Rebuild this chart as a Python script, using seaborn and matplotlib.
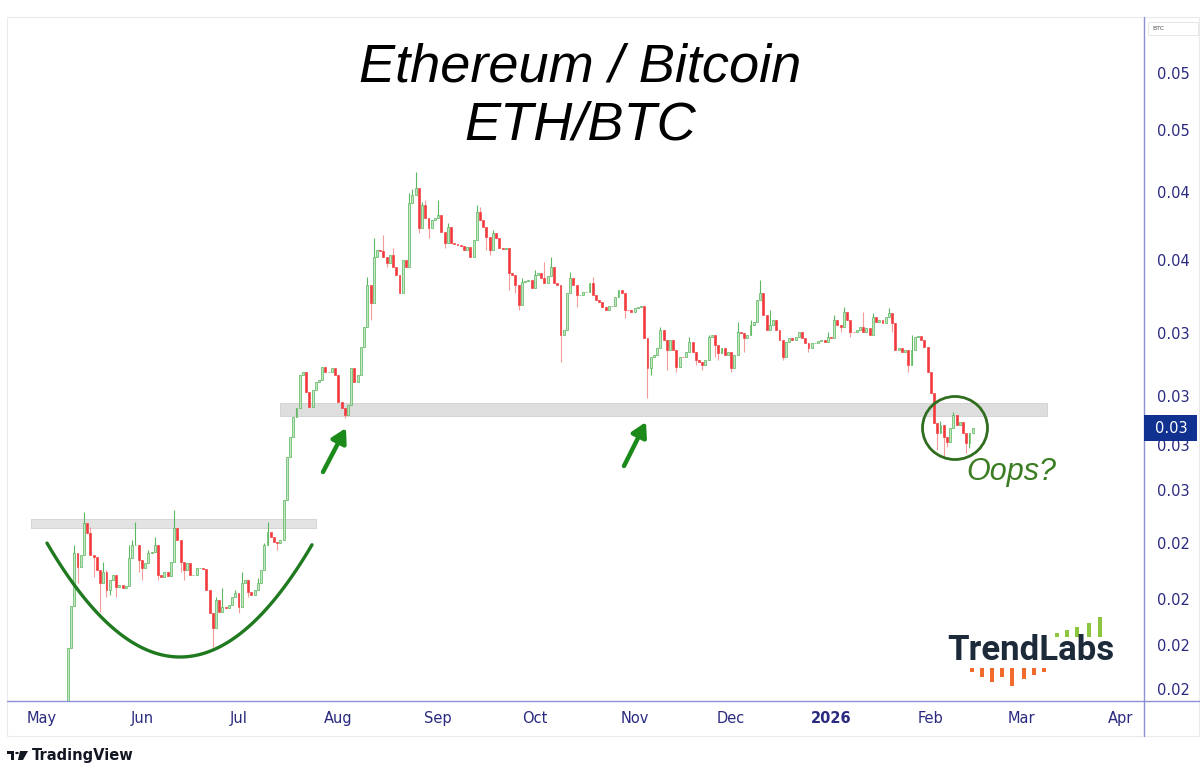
import numpy as np
import pandas as pd
import matplotlib
matplotlib.use("Agg")
import matplotlib.pyplot as plt
import matplotlib.dates as mdates
from matplotlib.patches import Rectangle, Ellipse, Polygon, Circle
from matplotlib.lines import Line2D
import seaborn as sns

# daily ETH/BTC closes, from 2025-05-09 to 2026-02-14
first_open = 0.0182
closes = [
    0.02000, 0.02140, 0.02330, 0.02278, 0.02323, 0.02445, 0.02406, 0.02323, 0.02315, 0.02267,
    0.02220, 0.02260, 0.02195, 0.02231, 0.02249, 0.02206, 0.02213, 0.02202, 0.02209, 0.02311,
    0.02360, 0.02360, 0.02304, 0.02274, 0.02293, 0.02330, 0.02334, 0.02360, 0.02249, 0.02242,
    0.02260, 0.02245, 0.02297, 0.02426, 0.02379, 0.02297, 0.02267, 0.02293, 0.02249, 0.02249,
    0.02274, 0.02274, 0.02270, 0.02195, 0.02116, 0.02065, 0.02160, 0.02119, 0.02136, 0.02133,
    0.02143, 0.02170, 0.02185, 0.02136, 0.02220, 0.02231, 0.02188, 0.02178, 0.02195, 0.02220,
    0.02267, 0.02360, 0.02410, 0.02391, 0.02371, 0.02368, 0.02379, 0.02538, 0.02719, 0.02809,
    0.02900, 0.02943, 0.03103, 0.03118, 0.03019, 0.02947, 0.03029, 0.03068, 0.03078, 0.03143,
    0.03118, 0.03120, 0.03138, 0.03103, 0.02971, 0.02943, 0.02910, 0.02957, 0.03138, 0.03068,
    0.03103, 0.03247, 0.03353, 0.03587, 0.03485, 0.03752, 0.03795, 0.03790, 0.03752, 0.03716,
    0.03764, 0.03693, 0.03646, 0.03541, 0.03734, 0.03693, 0.04094, 0.04147, 0.04194, 0.03932,
    0.04081, 0.03996, 0.03932, 0.03983, 0.03996, 0.04016, 0.03907, 0.03838, 0.03938, 0.03838,
    0.03832, 0.03826, 0.03820, 0.03795, 0.03814, 0.03752, 0.03857, 0.04035, 0.03983, 0.03938,
    0.03876, 0.03795, 0.03900, 0.03869, 0.03807, 0.03801, 0.03807, 0.03657, 0.03646, 0.03587,
    0.03474, 0.03604, 0.03610, 0.03616, 0.03570, 0.03646, 0.03657, 0.03628, 0.03599, 0.03640,
    0.03693, 0.03599, 0.03587, 0.03310, 0.03337, 0.03541, 0.03628, 0.03587, 0.03530, 0.03532,
    0.03547, 0.03548, 0.03599, 0.03530, 0.03502, 0.03491, 0.03463, 0.03446, 0.03468, 0.03470,
    0.03519, 0.03558, 0.03541, 0.03446, 0.03444, 0.03435, 0.03457, 0.03463, 0.03468, 0.03294,
    0.03138, 0.03195, 0.03205, 0.03241, 0.03337, 0.03283, 0.03231, 0.03283, 0.03231, 0.03143,
    0.03195, 0.03193, 0.03221, 0.03273, 0.03221, 0.03179, 0.03169, 0.03153, 0.03179, 0.03299,
    0.03310, 0.03257, 0.03215, 0.03241, 0.03205, 0.03221, 0.03138, 0.03205, 0.03326, 0.03321,
    0.03294, 0.03310, 0.03364, 0.03380, 0.03502, 0.03541, 0.03419, 0.03337, 0.03364, 0.03391,
    0.03337, 0.03283, 0.03195, 0.03273, 0.03294, 0.03283, 0.03299, 0.03326, 0.03294, 0.03267,
    0.03241, 0.03267, 0.03268, 0.03278, 0.03283, 0.03273, 0.03299, 0.03294, 0.03391, 0.03364,
    0.03353, 0.03435, 0.03391, 0.03326, 0.03324, 0.03337, 0.03353, 0.03326, 0.03348, 0.03310,
    0.03407, 0.03380, 0.03391, 0.03375, 0.03407, 0.03430, 0.03375, 0.03231, 0.03241, 0.03221,
    0.03231, 0.03153, 0.03231, 0.03299, 0.03305, 0.03283, 0.03246, 0.03118, 0.03015, 0.02872,
    0.02827, 0.02863, 0.02809, 0.02786, 0.02849, 0.02910, 0.02863, 0.02877, 0.02827, 0.02782,
    0.02827, 0.02849,
]
# wicks that can be seen beyond the bodies
highs = {
    "2025-05-11": 0.02360, "2025-05-14": 0.02489, "2025-05-16": 0.02430,
    "2025-05-20": 0.02297, "2025-05-21": 0.02267, "2025-05-28": 0.02360,
    "2025-05-29": 0.02379, "2025-05-30": 0.02449, "2025-06-03": 0.02341,
    "2025-06-05": 0.02391, "2025-06-11": 0.02497, "2025-06-24": 0.02170,
    "2025-06-26": 0.02202, "2025-06-30": 0.02195, "2025-07-02": 0.02260,
    "2025-07-07": 0.02238, "2025-07-09": 0.02368, "2025-07-10": 0.02449,
    "2025-08-10": 0.03634, "2025-08-12": 0.03869, "2025-08-15": 0.03888,
    "2025-08-18": 0.03807, "2025-08-23": 0.04160, "2025-08-24": 0.04187,
    "2025-08-25": 0.04303, "2025-08-27": 0.04100, "2025-08-28": 0.04110,
    "2025-09-01": 0.04113, "2025-09-04": 0.03964, "2025-09-13": 0.04081,
    "2025-09-14": 0.04068, "2025-09-18": 0.03919, "2025-09-27": 0.03628,
    "2025-10-01": 0.03675, "2025-10-04": 0.03722, "2025-10-06": 0.03752,
    "2025-10-12": 0.03660, "2025-10-19": 0.03634, "2025-11-09": 0.03353,
    "2025-11-18": 0.03299, "2025-11-24": 0.03310, "2025-12-03": 0.03380,
    "2025-12-07": 0.03390, "2025-12-10": 0.03616, "2025-12-13": 0.03446,
    "2025-12-31": 0.03326, "2026-01-02": 0.03420, "2026-01-05": 0.03460,
    "2026-01-11": 0.03435, "2026-01-14": 0.03430, "2026-01-19": 0.03457,
    "2026-01-26": 0.03310, "2026-02-04": 0.02880, "2026-02-08": 0.02924,
}
lows = {
    "2025-05-12": 0.02220, "2025-05-17": 0.02242, "2025-05-19": 0.02119,
    "2025-05-21": 0.02170, "2025-05-22": 0.02178, "2025-05-24": 0.02170,
    "2025-05-31": 0.02260, "2025-06-01": 0.02231, "2025-06-06": 0.02231,
    "2025-06-13": 0.02260, "2025-06-14": 0.02231, "2025-06-23": 0.02003,
    "2025-07-01": 0.02115, "2025-07-04": 0.02170, "2025-07-13": 0.02341,
    "2025-08-03": 0.02895, "2025-08-11": 0.03391, "2025-08-16": 0.03693,
    "2025-08-26": 0.03900, "2025-08-29": 0.03869, "2025-09-03": 0.03807,
    "2025-09-16": 0.03795, "2025-09-17": 0.03764, "2025-09-23": 0.03558,
    "2025-09-25": 0.03540, "2025-09-26": 0.03446, "2025-10-09": 0.03169,
    "2025-10-14": 0.03463, "2025-10-29": 0.03402, "2025-11-05": 0.02990,
    "2025-11-06": 0.03103, "2025-11-11": 0.03128, "2025-11-14": 0.03118,
    "2025-11-20": 0.03153, "2025-11-22": 0.03128, "2025-11-26": 0.03195,
    "2025-11-27": 0.03179, "2025-12-01": 0.03118, "2025-12-05": 0.03221,
    "2025-12-17": 0.03179, "2025-12-25": 0.03221, "2026-01-04": 0.03326,
    "2026-01-07": 0.03299, "2026-01-20": 0.03326, "2026-01-25": 0.03120,
    "2026-02-03": 0.02750, "2026-02-05": 0.02719, "2026-02-06": 0.02763,
    "2026-02-12": 0.02737, "2026-02-13": 0.02759,
}

price_ticks = [0.01872, 0.02009, 0.02164, 0.02368, 0.02579, 0.02772,
               0.03000, 0.03320, 0.03734, 0.04166, 0.04604, 0.05046]
price_labels = ["0.02", "0.02", "0.02", "0.02", "0.03", "0.03",
                "0.03", "0.03", "0.04", "0.04", "0.05", "0.05"]
month_labels = ["May", "Jun", "Jul", "Aug", "Sep", "Oct", "Nov", "Dec",
                "2026", "Feb", "Mar", "Apr"]
upper_band = (0.02905, 0.02967)
lower_band = (0.02426, 0.02461)

dates = pd.date_range("2025-05-09", periods=len(closes), freq="D")
df = pd.DataFrame({"date": dates, "close": closes})
df["open"] = [first_open] + closes[:-1]
df["high"] = df[["open", "close"]].max(axis=1)
df["low"] = df[["open", "close"]].min(axis=1)
for d, v in highs.items():
    df.loc[df["date"] == d, "high"] = v
for d, v in lows.items():
    df.loc[df["date"] == d, "low"] = v
df["x"] = mdates.date2num(df["date"])
up = df["close"] >= df["open"]

sns.set_theme(style="white")
plt.rcParams["font.family"] = ["DejaVu Sans"]

W, H = 1200, 774
fig = plt.figure(figsize=(12, 7.74), dpi=100)
fig.patch.set_facecolor("white")


def fx(x):
    return x / W


def fy(y):
    return 1 - y / H


ax = fig.add_axes([fx(7), fy(701), (1144 - 7) / W, (701 - 17) / H])
ax.set_facecolor("white")
ax.set_yscale("log")

base = mdates.date2num(pd.Timestamp("2025-05-01"))
ax.set_xlim(base - 10.9, base + 342.2)
ax.set_ylim(0.01836, 0.05522)

# wicks
wick_cols = np.where(up, "#5cb860", "#f59a9a")
ax.vlines(df["x"], df["low"], df["high"], colors=wick_cols, lw=0.8, zorder=2)
# bodies
g = df[up]
r = df[~up]
ax.bar(g["x"], g["close"] - g["open"], bottom=g["open"], width=0.6,
       color="#c3e6c3", edgecolor="#4caf50", linewidth=0.45, zorder=3)
ax.bar(r["x"], r["open"] - r["close"], bottom=r["close"], width=0.6,
       color="#f23a3c", edgecolor="#f23a3c", linewidth=0.45, zorder=3)

# support bands
ax.axhspan(*upper_band, xmin=(280 - 7) / 1137, xmax=(1047 - 7) / 1137,
           facecolor="#dedede", edgecolor="#cfcfcf", lw=0.6, zorder=1)
ax.axhspan(*lower_band, xmin=(31 - 7) / 1137, xmax=(316 - 7) / 1137,
           facecolor="#e3e3e3", edgecolor="#d0d0d0", lw=0.6, zorder=1)

# axes
month_starts = pd.date_range("2025-05-01", periods=12, freq="MS")
ax.set_xticks(mdates.date2num(month_starts))
ax.set_xticklabels(month_labels)
ax.set_yticks(price_ticks)
ax.set_yticklabels(price_labels)
ax.yaxis.set_minor_locator(matplotlib.ticker.NullLocator())
ax.yaxis.tick_right()
tick_col = "#2a2a80"
ax.tick_params(axis="x", length=0, pad=7, labelsize=10.5, labelcolor=tick_col)
ax.tick_params(axis="y", length=0, pad=9, labelsize=10.5, labelcolor=tick_col)
for lab in ax.get_xticklabels():
    if lab.get_text() == "2026":
        lab.set_fontweight("bold")
for s in ax.spines.values():
    s.set_visible(False)
ax.grid(False)

# frame and axis lines
fig.add_artist(Rectangle((fx(7), fy(736)), (1199 - 7) / W, (736 - 17) / H,
                         transform=fig.transFigure, fill=False, ec="#ebebeb", lw=0.8))
fig.add_artist(Line2D([fx(7), fx(1200)], [fy(701), fy(701)],
                      transform=fig.transFigure, color="#8d90d4", lw=1))
fig.add_artist(Line2D([fx(1144), fx(1144)], [fy(17), fy(736)],
                      transform=fig.transFigure, color="#8d90d4", lw=1))

# BTC label box
fig.add_artist(Rectangle((fx(1148), fy(35)), 50 / W, 13 / H, transform=fig.transFigure,
                         fc="white", ec="#e2e2e2", lw=0.6))
fig.text(fx(1152), fy(28.5), "BTC", fontsize=4.5, color="#555555", va="center")

# last price tag
last = closes[-1]
y_last = ax.transData.transform((ax.get_xlim()[0], last))[1]
fig.add_artist(Rectangle((fx(1144), y_last / H - 13 / H), 53 / W, 26 / H,
                         transform=fig.transFigure, fc="#10318f", ec="none", zorder=5))
fig.text(fx(1171), y_last / H, "0.03", color="white", fontsize=10.5,
         ha="center", va="center", zorder=6)

# title
fig.text(fx(580), fy(68), "Ethereum / Bitcoin", ha="center", va="center",
         fontsize=39, style="italic", family="Liberation Sans", color="black")
fig.text(fx(580), fy(125), "ETH/BTC", ha="center", va="center",
         fontsize=39, style="italic", family="Liberation Sans", color="black")

# cup curve
cx = np.linspace(47, 312, 120)
cy = 657 - 0.00644 * (cx - 180) ** 2
fig.add_artist(Line2D(fx(cx), fy(cy), transform=fig.transFigure,
                      color="#1f7a1f", lw=2.4, solid_capstyle="round"))

# arrows
for (x0, y0), (x1, y1) in [((323, 472), (346, 428)), ((624, 466), (646, 422))]:
    ax.annotate("", xy=(x1, H - y1), xytext=(x0, H - y0), xycoords="figure pixels",
                textcoords="figure pixels",
                arrowprops=dict(arrowstyle="-|>,head_length=0.7,head_width=0.4",
                                lw=3.2, color="#1b8a1b", shrinkA=0, shrinkB=0))

# circle and note
fig.add_artist(Ellipse((fx(955), fy(428)), 65 / W, 63 / H, transform=fig.transFigure,
                       fill=False, ec="#2f6e1f", lw=2))
fig.text(fx(1011), fy(472), "Oops?", ha="center", va="center", fontsize=22,
         style="italic", family="Liberation Sans", color="#3b7d22")

# TrendLabs logo
fig.text(fx(947), fy(650), "TrendLabs", ha="left", va="center", fontsize=25,
         fontweight="bold", family="Roboto", color="#1c2a3a")
for bx, top in [(1055, 633), (1065, 630), (1075, 627), (1087, 623), (1098, 617)]:
    fig.add_artist(Rectangle((fx(bx), fy(637)), 3.5 / W, (637 - top) / H,
                             transform=fig.transFigure, fc="#8cc63f", ec="none"))
for bx, bot in [(970, 672), (980, 677), (990, 682), (1000, 677), (1010, 686),
                (1022, 679), (1032, 675), (1042, 672)]:
    fig.add_artist(Rectangle((fx(bx), fy(bot)), 3.5 / W, (bot - 668) / H,
                             transform=fig.transFigure, fc="#f26a2c", ec="none"))

# TradingView mark
fig.add_artist(Rectangle((fx(7), fy(754)), 7 / W, 3 / H, transform=fig.transFigure,
                         fc="#131722", ec="none"))
fig.add_artist(Rectangle((fx(10.5), fy(760)), 3.5 / W, 9 / H, transform=fig.transFigure,
                         fc="#131722", ec="none"))
fig.add_artist(Circle((fx(17), fy(753)), 1.8 / W, transform=fig.transFigure,
                      fc="#131722", ec="none"))
fig.add_artist(Polygon([(fx(20), fy(751)), (fx(28), fy(751)), (fx(23), fy(760)),
                        (fx(18), fy(760))], closed=True, transform=fig.transFigure,
                       fc="#131722", ec="none"))
fig.text(fx(32), fy(755.5), "TradingView", fontsize=10.5, fontweight="bold",
         color="#131722", va="center")

fig.savefig("out.png", dpi=100, facecolor="white")
